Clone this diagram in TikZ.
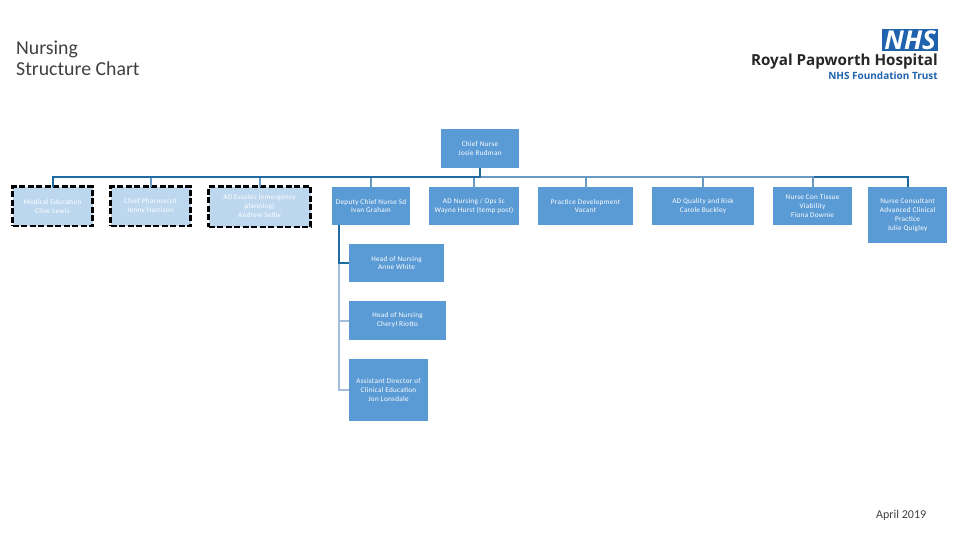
\documentclass[tikz,border=0pt]{standalone}
\usepackage{fontspec}
\setmainfont{Carlito}
\newfontfamily\logofont{Open Sans}
\definecolor{boxblue}{HTML}{5B9BD5}
\definecolor{paleblue}{HTML}{BDD7EE}
\definecolor{linedark}{HTML}{1F6A9E}
\definecolor{linemid}{HTML}{6A9AC4}
\definecolor{linepale}{HTML}{A3BEDA}
\definecolor{nhsblue}{HTML}{1F62AD}
\tikzset{
 x=1pt,y=-1pt,
 base/.style={anchor=north west,inner sep=0pt,outer sep=0pt,align=center,text=white,
   font=\fontsize{7.2}{8.9}\selectfont\addfontfeatures{LetterSpace=4}},
 solidbox/.style={base,fill=boxblue},
 dashbox/.style={base,fill=paleblue,draw=black,line width=2.2pt,dash pattern=on 6pt off 2.5pt},
 linkdark/.style={draw=linedark,line width=2pt},
 linkmid/.style={draw=linemid,line width=2pt},
 linkpale/.style={draw=linepale,line width=2pt},
 note/.style={anchor=west,inner sep=0pt,text=black!75},
}
\newcommand{\bx}[8]{\node[#1,minimum width=#6pt,minimum height=#7pt] (#2) at (#4,#5) {#8};}
\begin{document}
\begin{tikzpicture}
\useasboundingbox (0,0) rectangle (960,540);
\fill[white] (0,0) rectangle (960,540);
\node[note,anchor=north west,align=left,font=\fontsize{19.8}{21}\selectfont] (title) at (16,41) {Nursing\\Structure Chart};
\node[note,font=\fontsize{12}{14}\selectfont] (date) at (876,515) {April 2019};
% logo
\node[anchor=north west,inner sep=0pt,fill=nhsblue,minimum width=56pt,minimum height=22pt,text=white,font=\logofont\fontsize{26}{26}\selectfont\bfseries\itshape] (nhs) at (882,29) {NHS};
\node[anchor=east,inner sep=0pt,text=black!85,font=\logofont\fontsize{15.2}{16}\selectfont\bfseries] (trust) at (938,62) {Royal Papworth Hospital};
\node[anchor=east,inner sep=0pt,text=nhsblue,font=\logofont\fontsize{10}{10}\selectfont\bfseries] (found) at (938,76) {NHS Foundation Trust};
% boxes
\bx{solidbox}{chief}{}{441}{129}{78}{39}{Chief Nurse\\Josie Rudman}
\bx{dashbox}{med}{}{12.5}{186.5}{80}{39.5}{Medical Education\\Clive Lewis}
\bx{dashbox}{pharm}{}{110.5}{186.5}{80}{39.5}{Chief Pharmacist\\Jenny Harrison}
\bx{dashbox}{est}{}{208.5}{186.5}{102}{40.5}{AD Estates (emergency\\planning)\\Andrew Selby}
\bx{solidbox}{dep}{}{332}{187}{78}{38}{Deputy Chief Nurse Sd\\Ivan Graham}
\bx{solidbox}{adn}{}{429}{187}{90}{38}{AD Nursing / Ops Sc\\Wayne Hurst (temp post)}
\bx{solidbox}{prac}{}{538}{187}{95}{38}{Practice Development\\Vacant}
\bx{solidbox}{qual}{}{652}{187}{102}{38}{AD Quality and Risk\\Carole Buckley}
\bx{solidbox}{tiss}{}{773}{187}{79}{38}{Nurse Con Tissue\\Viability\\Fiona Downie}
\bx{solidbox}{cons}{}{868}{187}{79}{56}{Nurse Consultant\\Advanced Clinical\\Practice\\Julie Quigley}
\bx{solidbox}{hone}{}{349}{244}{95}{38}{Head of Nursing\\Anne White}
\bx{solidbox}{htwo}{}{349}{301}{97}{39}{Head of Nursing\\Cheryl Riotto}
\bx{solidbox}{asst}{}{349}{359}{79}{62}{Assistant Director of\\Clinical Education\\Jon Lonsdale}
% connectors
\coordinate (bus) at (480,177);
\coordinate (trunk) at (339,225);
\draw[linkdark] (bus) -| (cons.north);
\foreach \c in {prac,qual,tiss,adn,dep,est,pharm}{\draw[linkmid] (chief.south) |- (bus) -| (\c.north);}
\draw[linkdark] (chief.south) |- (bus) -| (med.north);
\draw[linkpale] (trunk) |- (asst.west);
\draw[linkpale] (trunk) |- (htwo.west);
\draw[linkdark] (trunk) |- (hone.west);
\end{tikzpicture}
\end{document}
